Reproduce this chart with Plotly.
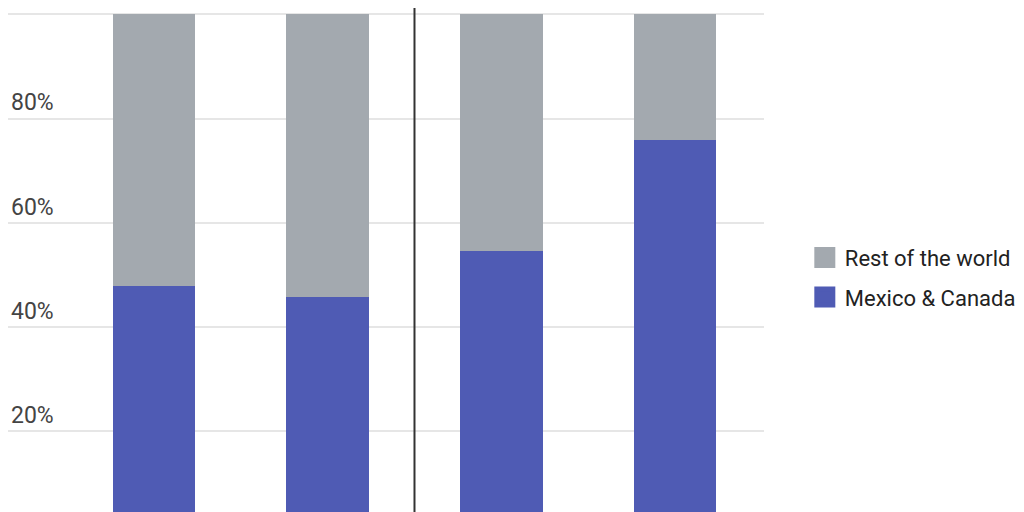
import plotly.graph_objects as go

# categories (their labels sit below the visible area)
categories = ['Group 1 - A', 'Group 1 - B', 'Group 2 - A', 'Group 2 - B']
mexico_canada = [47.9, 45.7, 54.5, 75.9]
rest_of_world = [100 - v for v in mexico_canada]

tick_vals = [0, 20, 40, 60, 80, 100]
tick_text = ['0%', '20%', '40%', '60%', '80%', '100%']

BLUE = '#4f5bb4'
GREY = '#a3a9af'
FONT = 'Roboto, Arial, sans-serif'

fig = go.Figure()

fig.add_trace(go.Bar(
    x=categories, y=mexico_canada, name='Mexico & Canada',
    marker=dict(color=BLUE, line=dict(width=0)), width=0.474,
    showlegend=False,
))
fig.add_trace(go.Bar(
    x=categories, y=rest_of_world, name='Rest of the world',
    marker=dict(color=GREY, line=dict(width=0)), width=0.474,
    showlegend=False,
))

# legend-only entries so the swatches can be bigger squares
for name, color in [('Rest of the world', GREY), ('Mexico & Canada', BLUE)]:
    fig.add_trace(go.Scatter(
        x=[None], y=[None], mode='markers', name=name, legendgroup=name,
        marker=dict(symbol='square', size=16, color=color,
                    line=dict(color=color, width=5)),
    ))

# divider between the two pairs
fig.add_vline(x=1.5, line=dict(color='#333333', width=2))

fig.update_layout(
    barmode='stack',
    width=1016, height=504,
    margin=dict(l=0, r=260, t=0, b=0, autoexpand=False),
    plot_bgcolor='white', paper_bgcolor='white',
    font=dict(family=FONT, size=23, color='#222222'),
    showlegend=True,
    legend=dict(
        x=1.054, xanchor='left', y=0.465, yanchor='middle',
        font=dict(size=22, color='#222222'),
        traceorder='grouped', tracegroupgap=8,
        itemsizing='trace',
    ),
    xaxis=dict(
        range=[-0.84, 3.512], showticklabels=False,
        showgrid=False, zeroline=False, showline=False, ticks='',
    ),
    yaxis=dict(
        range=[4.47, 101.21], tickvals=tick_vals, ticktext=tick_text,
        ticklabelposition='inside top', showgrid=True,
        gridcolor='#e6e6e6', gridwidth=1.5, zeroline=False,
        showline=False, ticks='',
    ),
)

fig.write_html("out.html")
